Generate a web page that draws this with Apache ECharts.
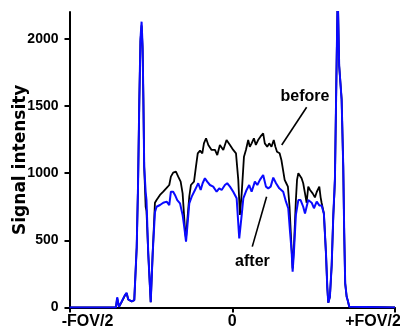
<!DOCTYPE html>
<html>
<head>
<meta charset="utf-8">
<script src="https://cdn.jsdelivr.net/npm/echarts@6/dist/echarts.min.js"></script>
<style>
  html, body { margin: 0; padding: 0; background: #fff; }
  #chart { width: 400px; height: 333px; }
</style>
</head>
<body>
<div id="chart"></div>
<script>
// position across the field of view, in % of FOV/2 (-100 = -FOV/2, 100 = +FOV/2)
const afterX = [-100, -71.5, -70.7, -69.6, -68.0, -65.9, -64.9, -63.9, -62.9, -61.8, -60.2, -58.7, -57.9, -57.1, -56.4, -55.7, -55.1, -54.6, -54.1, -53.2, -52.7, -51.6, -50.1, -48.9, -47.5, -46.5, -44.4, -42.4, -40.3, -38.7, -37.7, -36.3, -35.2, -33.8, -32.1, -30.5, -29.5, -28.4, -27.6, -26.4, -24.9, -22.9, -21.9, -20.9, -19.4, -18.2, -16.8, -15.4, -13.7, -11.7, -9.6, -8.0, -6.5, -4.5, -3.1, -1.4, 0.6, 2.7, 4.3, 5.8, 6.8, 8.8, 10.4, 11.9, 13.9, 15.4, 17.0, 19.0, 20.7, 22.1, 23.6, 25.2, 26.9, 28.9, 31.3, 33.0, 34.4, 35.5, 36.5, 37.1, 37.9, 39.1, 40.6, 42.0, 43.6, 44.7, 46.7, 48.8, 50.2, 51.9, 53.5, 54.9, 56.3, 57.6, 58.4, 59.0, 60.0, 61.1, 62.1, 63.1, 64.1, 64.8, 65.7, 67.2, 68.2, 68.8, 69.4, 70.3, 70.9, 71.9, 72.6, 100];
const afterY = [0, 0, 76, 5, 43, 93, 110, 60, 55, 45, 55, 450, 900, 1545, 2000, 2128, 1950, 1545, 1048, 860, 800, 400, 40, 400, 710, 750, 763, 780, 788, 763, 862, 862, 838, 800, 775, 689, 601, 490, 601, 775, 825, 875, 900, 925, 875, 925, 962, 937, 912, 900, 862, 887, 875, 912, 925, 900, 862, 813, 515, 689, 813, 875, 912, 862, 937, 912, 950, 987, 900, 887, 900, 967, 925, 887, 862, 788, 739, 564, 416, 267, 416, 689, 800, 800, 750, 700, 800, 780, 739, 788, 760, 760, 700, 400, 150, 35, 80, 316, 689, 962, 1800, 2350, 1800, 1550, 1048, 552, 180, 80, 56, 6, 0, 0];

const beforeX = [-100, -71.5, -70.7, -69.6, -68.0, -65.9, -64.9, -63.9, -62.9, -61.8, -60.2, -58.7, -57.9, -57.1, -56.4, -55.7, -55.1, -54.6, -54.1, -53.2, -52.7, -51.6, -50.1, -48.9, -47.5, -46.5, -44.4, -42.4, -40.3, -38.7, -37.7, -36.3, -34.6, -33.2, -31.7, -30.5, -29.7, -28.9, -28.4, -27.6, -26.4, -25.4, -23.5, -22.3, -21.2, -19.8, -18.4, -17.4, -16.1, -14.7, -12.7, -10.6, -9.2, -7.6, -5.5, -3.5, -1.4, 0.6, 2.3, 3.7, 4.7, 5.8, 7.2, 8.4, 9.8, 10.8, 11.9, 13.3, 14.5, 15.9, 17.3, 19.0, 20.0, 21.5, 22.7, 24.1, 25.5, 26.5, 27.5, 29.1, 30.2, 31.2, 32.2, 33.2, 34.2, 35.2, 36.2, 37.1, 37.9, 39.1, 39.8, 40.6, 41.6, 42.6, 43.6, 44.7, 45.7, 46.7, 47.8, 49.4, 50.8, 51.9, 53.5, 54.3, 54.9, 56.3, 57.6, 58.4, 59.0, 60.0, 61.1, 62.1, 62.8, 63.1, 64.1, 64.8, 65.7, 67.2, 68.2, 68.8, 69.4, 70.3, 70.9, 71.9, 72.6, 100];
const beforeY = [0, 0, 70, 5, 40, 90, 105, 60, 55, 45, 55, 450, 900, 1545, 1980, 2100, 1930, 1545, 1048, 750, 720, 400, 40, 400, 780, 800, 838, 862, 890, 912, 974, 1004, 1011, 974, 937, 850, 704, 555, 517, 651, 825, 912, 937, 1048, 1148, 1168, 1148, 1222, 1260, 1210, 1173, 1173, 1135, 1210, 1173, 1247, 1210, 1173, 1148, 950, 689, 850, 1123, 1173, 1247, 1197, 1222, 1260, 1210, 1247, 1272, 1297, 1222, 1197, 1222, 1197, 1247, 1197, 1160, 1148, 1098, 1024, 950, 925, 900, 750, 500, 290, 450, 800, 950, 1000, 1011, 962, 925, 850, 780, 900, 875, 850, 820, 860, 900, 820, 780, 700, 400, 150, 35, 80, 316, 689, 860, 962, 1800, 2350, 1800, 1550, 1048, 552, 180, 80, 56, 6, 0, 0];

const xTickLabels = { '-100': '-FOV/2', '0': '0', '100': '+FOV/2' };

// annotation anchors (data coords): text centre, arrow tail, arrow head
const beforeNote = { text: [44.7, 1567], tail: [45.7, 1491], head: [30.4, 1210] };
const afterNote = { text: [12.4, 339], tail: [12.3, 453], head: [21.1, 825] };

const font = '"Liberation Sans", Arial, sans-serif';

const chart = echarts.init(document.getElementById('chart'), null, { renderer: 'canvas' });

const pairs = (xs, ys) => xs.map((x, i) => [x, ys[i]]);

const noteSeries = (note) => ({
  markPoint: {
    silent: true,
    symbol: 'circle',
    symbolSize: 0,
    data: [{
      coord: note.text,
      label: {
        show: true, position: 'inside', formatter: note.label,
        color: '#000', fontFamily: font, fontWeight: 'bold', fontSize: 16,
      },
    }],
  },
  markLine: {
    silent: true,
    animation: false,
    symbol: ['none', 'arrow'],
    symbolSize: [0, 11],
    label: { show: false },
    lineStyle: { color: '#000', width: 1.6, type: 'solid' },
    data: [[{ coord: note.tail }, { coord: note.head }]],
  },
});

const option = {
  animation: false,
  backgroundColor: '#fff',
  grid: { left: 69.5, right: 5, top: 12, bottom: 25.5, containLabel: false, outerBoundsMode: 'none' },
  xAxis: {
    type: 'value',
    min: -100,
    max: 100,
    interval: 100,
    axisLine: { onZero: false, lineStyle: { color: '#000', width: 2 } },
    axisTick: { length: 5, lineStyle: { color: '#000', width: 2 } },
    splitLine: { show: false },
    axisLabel: {
      margin: 6,
      color: '#000',
      fontFamily: font,
      fontWeight: 'bold',
      fontSize: 16,
      formatter: (v) => {
        if (v === -100) return '{l|' + xTickLabels['-100'] + '}';
        if (v === 100) return '{r|' + xTickLabels['100'] + '}';
        return xTickLabels[String(v)];
      },
      rich: {
        l: { fontFamily: font, fontWeight: 'bold', fontSize: 16, color: '#000', padding: [0, 0, 0, 36] },
        r: { fontFamily: font, fontWeight: 'bold', fontSize: 16, color: '#000', padding: [0, 44, 0, 0] },
      },
    },
  },
  yAxis: {
    type: 'value',
    min: 0,
    max: 2200,
    interval: 500,
    name: 'Signal intensity',
    nameLocation: 'middle',
    nameGap: 40,
    nameMoveOverlap: false,
    nameTextStyle: { color: '#000', fontFamily: 'DejaVu Sans', fontWeight: 'bold', fontSize: 17 },
    axisLine: { show: true, onZero: false, lineStyle: { color: '#000', width: 2 } },
    axisTick: { show: true, length: 5, lineStyle: { color: '#000', width: 2 } },
    splitLine: { show: false },
    axisLabel: {
      margin: 11,
      color: '#000',
      fontFamily: font,
      fontWeight: 'bold',
      fontSize: 14,
      showMaxLabel: false,
      formatter: (v) => String(v),
    },
  },
  series: [
    Object.assign({
      name: 'before',
      type: 'line',
      data: pairs(beforeX, beforeY),
      symbol: 'none',
      lineStyle: { color: '#000', width: 1.8 },
      z: 2,
    }, noteSeries(Object.assign({ label: 'before' }, beforeNote))),
    Object.assign({
      name: 'after',
      type: 'line',
      data: pairs(afterX, afterY),
      symbol: 'none',
      lineStyle: { color: '#0a0aff', width: 2 },
      z: 3,
    }, noteSeries(Object.assign({ label: 'after' }, afterNote))),
  ],
};

chart.setOption(option);
</script>
</body>
</html>
